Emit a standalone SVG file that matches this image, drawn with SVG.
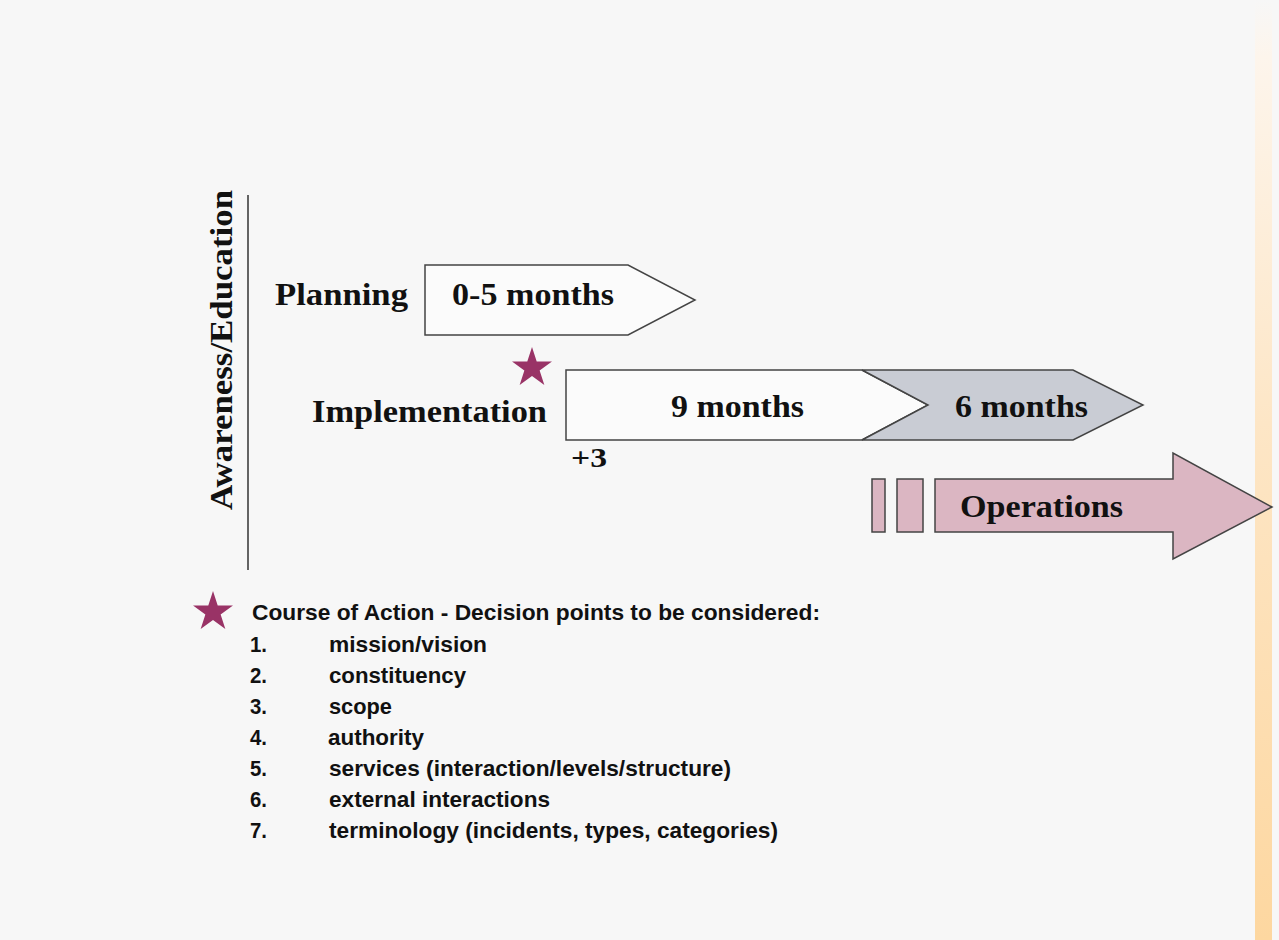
<svg xmlns="http://www.w3.org/2000/svg" width="1279" height="940" viewBox="0 0 1279 940">
<defs>
<linearGradient id="strip" x1="0" y1="0" x2="0" y2="1">
<stop offset="0" stop-color="#f7f7f7"/>
<stop offset="0.06" stop-color="#fdf5ec"/>
<stop offset="0.45" stop-color="#fde6c6"/>
<stop offset="1" stop-color="#fdd7a0"/>
</linearGradient>
<path id="star" d="M0,-21 L4.71,-6.49 L19.97,-6.49 L7.63,2.48 L12.34,16.99 L0,8.02 L-12.34,16.99 L-7.63,2.48 L-19.97,-6.49 L-4.71,-6.49 Z" fill="#993366"/>
</defs>
<style>
.lbl{font-family:"Liberation Serif","Times New Roman",serif;font-weight:bold;font-size:32px;fill:#111}
.leg{font-family:"Liberation Sans",Arial,sans-serif;font-weight:bold;font-size:22px;fill:#111}
.shape{stroke:#444;stroke-width:1.5}
</style>
<rect width="1279" height="940" fill="#f7f7f7"/>
<rect x="1255" y="0" width="17" height="940" fill="url(#strip)"/>

<g id="axis">
<line x1="248" y1="195" x2="248" y2="570" stroke="#333" stroke-width="1.5"/>
<text class="lbl" transform="translate(232,350) rotate(-90)" text-anchor="middle" textLength="320" lengthAdjust="spacingAndGlyphs">Awareness/Education</text>
</g>

<g id="planning">
<text class="lbl" x="275" y="305" textLength="133" lengthAdjust="spacingAndGlyphs">Planning</text>
<polygon class="shape" points="425,265 628,265 695,300 628,335 425,335" fill="#fbfbfb"/>
<text class="lbl" x="452" y="305" textLength="162" lengthAdjust="spacingAndGlyphs">0-5 months</text>
</g>

<g id="implementation">
<use href="#star" x="532" y="368"/>
<text class="lbl" x="312" y="422" textLength="235" lengthAdjust="spacingAndGlyphs">Implementation</text>
<polygon class="shape" points="566,370 862,370 928,405 862,440 566,440" fill="#fbfbfb"/>
<polygon class="shape" points="862,370 1073,370 1143,405 1073,440 862,440 928,405" fill="#c9ccd4"/>
<text class="lbl" x="671" y="417" textLength="133" lengthAdjust="spacingAndGlyphs">9 months</text>
<text class="lbl" x="955" y="417" textLength="133" lengthAdjust="spacingAndGlyphs">6 months</text>
<text class="lbl" x="571" y="467" style="font-size:28px" textLength="36" lengthAdjust="spacingAndGlyphs">+3</text>
</g>

<g id="operations">
<rect class="shape" x="872" y="479" width="13" height="53" fill="#dbb6c2"/>
<rect class="shape" x="897" y="479" width="26" height="53" fill="#dbb6c2"/>
<polygon class="shape" points="935,479 1173,479 1173,453 1272,507 1173,559 1173,532 935,532" fill="#dbb6c2"/>
<text class="lbl" x="960" y="517" textLength="163" lengthAdjust="spacingAndGlyphs">Operations</text>
</g>

<g id="legend">
<use href="#star" x="213" y="612"/>
<text class="leg" x="252" y="620" textLength="568" lengthAdjust="spacingAndGlyphs">Course of Action - Decision points to be considered:</text>
<text class="leg" x="250" y="652" textLength="17" lengthAdjust="spacingAndGlyphs">1.</text>
<text class="leg" x="329" y="652" textLength="158" lengthAdjust="spacingAndGlyphs">mission/vision</text>
<text class="leg" x="250" y="683" textLength="17" lengthAdjust="spacingAndGlyphs">2.</text>
<text class="leg" x="329" y="683" textLength="137" lengthAdjust="spacingAndGlyphs">constituency</text>
<text class="leg" x="250" y="714" textLength="17" lengthAdjust="spacingAndGlyphs">3.</text>
<text class="leg" x="329" y="714" textLength="63" lengthAdjust="spacingAndGlyphs">scope</text>
<text class="leg" x="250" y="745" textLength="17" lengthAdjust="spacingAndGlyphs">4.</text>
<text class="leg" x="328" y="745" textLength="96" lengthAdjust="spacingAndGlyphs">authority</text>
<text class="leg" x="250" y="776" textLength="17" lengthAdjust="spacingAndGlyphs">5.</text>
<text class="leg" x="329" y="776" textLength="402" lengthAdjust="spacingAndGlyphs">services (interaction/levels/structure)</text>
<text class="leg" x="250" y="807" textLength="17" lengthAdjust="spacingAndGlyphs">6.</text>
<text class="leg" x="329" y="807" textLength="221" lengthAdjust="spacingAndGlyphs">external interactions</text>
<text class="leg" x="250" y="838" textLength="17" lengthAdjust="spacingAndGlyphs">7.</text>
<text class="leg" x="329" y="838" textLength="449" lengthAdjust="spacingAndGlyphs">terminology (incidents, types, categories)</text>
</g>
</svg>
